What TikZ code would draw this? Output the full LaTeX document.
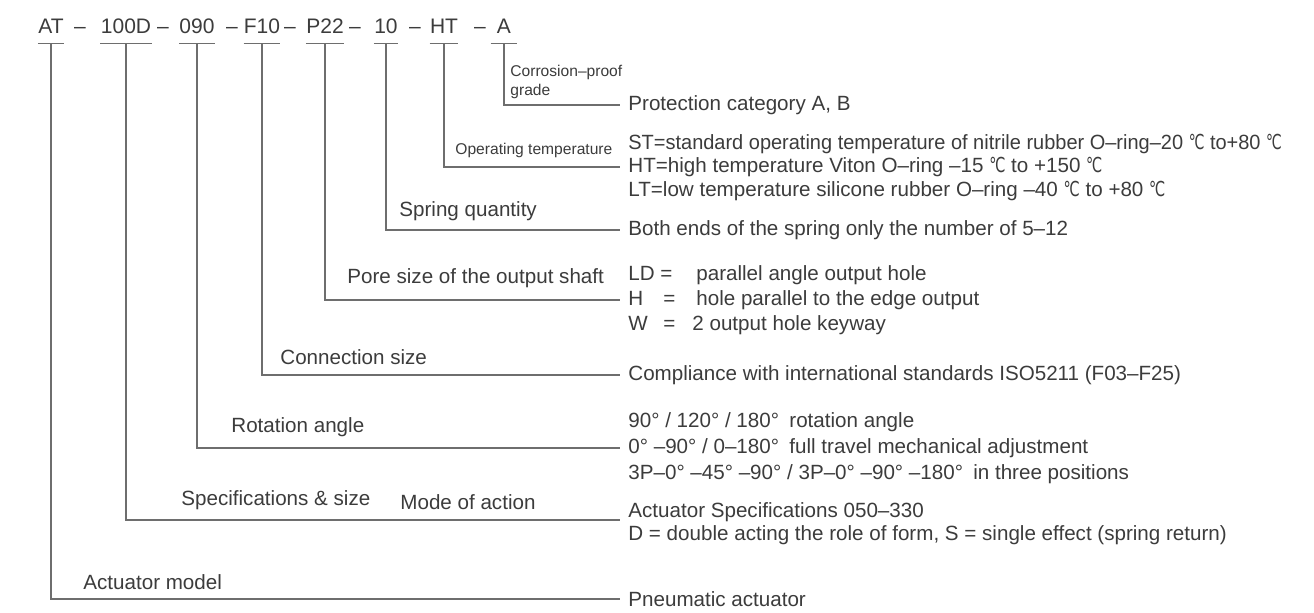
\documentclass[tikz,border=0pt]{standalone}
\usepackage{fontspec}
\setmainfont{Liberation Sans}
\newfontfamily\symfont{DejaVu Sans}
\usepackage{graphicx}
\usepackage{tikz}
\definecolor{inkgray}{HTML}{3C3C3C}
\definecolor{leadgray}{HTML}{6E6E6E}
\newcommand{\degc}{\scalebox{0.7}[1]{\symfont\char"2103}}
\newcommand{\squeeze}[1]{\scalebox{0.97}[1]{#1}}

\begin{document}
\begin{tikzpicture}[x=0.5pt, y=-0.5pt, every node/.style={text=inkgray},
    code/.style={font=\fontsize{10.5}{12}\selectfont, inner xsep=0pt, inner ysep=5pt, anchor=base},
    desc/.style={font=\fontsize{10.3}{12}\selectfont, inner xsep=4pt, inner ysep=0pt, anchor=west, align=left},
    tag/.style={font=\fontsize{10.3}{12}\selectfont, inner sep=0pt, anchor=west},
    small/.style={font=\fontsize{7.8}{9.5}\selectfont, inner sep=0pt, anchor=west, align=left},
    lead/.style={draw=leadgray, line width=0.6pt}]
  \useasboundingbox[fill=white] (0,0) rectangle (1314,612);

  % model code
  \node[code] (cAT) at (51,33) {AT};
  \node[code] (c100D) at (126,33) {100D};
  \node[code] (c090) at (197,33) {090};
  \node[code] (cF10) at (262,33) {F10};
  \node[code] (cP22) at (325,33) {P22};
  \node[code] (c10) at (386,33) {10};
  \node[code] (cHT) at (444,33) {HT};
  \node[code, inner xsep=3pt] (cA) at (504,33) {A};
  \node[code] (dash1) at (80,33) {–};
  \node[code] (dash2) at (163,33) {–};
  \node[code] (dash3) at (232,33) {–};
  \node[code] (dash4) at (290,33) {–};
  \node[code] (dash5) at (355,33) {–};
  \node[code] (dash6) at (415,33) {–};
  \node[code] (dash7) at (480,33) {–};
  \foreach \c in {cAT,c100D,c090,cF10,cP22,c10,cHT,cA}
    \draw[lead] (\c.south west) -- (\c.south east);

  % descriptions
  \node[desc] (dA) at (620,105) {Protection category A, B};
  \node[desc, font=\fontsize{10.3}{11.75}\selectfont] (dHT) at (620,167)
    {\squeeze{ST=standard operating temperature of nitrile rubber O–ring–20 \degc{} to+80 \degc}\\
     HT=high temperature Viton O–ring –15 \degc{} to +150 \degc\\
     LT=low temperature silicone rubber O–ring –40 \degc{} to +80 \degc};
  \node[desc] (d10) at (620,230) {Both ends of the spring only the number of 5–12};
  \node[desc, font=\fontsize{10.3}{12.5}\selectfont] (dP22) at (620,300)
    {\makebox[34pt][l]{LD =}parallel angle output hole\\
     \makebox[17.5pt][l]{H}\makebox[16.5pt][l]{=}hole parallel to the edge output\\
     \makebox[17.5pt][l]{W}\makebox[14.5pt][l]{=}2 output hole keyway};
  \node[desc] (dF10) at (620,375) {Compliance with international standards ISO5211 (F03–F25)};
  \node[desc, font=\fontsize{10.3}{13}\selectfont] (d090) at (620,448)
    {90° / 120° / 180°\enspace rotation angle\\
     0° –90° / 0–180°\enspace full travel mechanical adjustment\\
     3P–0° –45° –90° / 3P–0° –90° –180°\enspace in three positions};
  \node[desc, font=\fontsize{10.3}{11.5}\selectfont] (d100D) at (620,524)
    {Actuator Specifications 050–330\\
     D = double acting the role of form, S = single effect (spring return)};
  \node[desc] (dAT) at (620,599) {Pneumatic actuator};

  % labels
  \node[small] (lA) at (510,81.5) {Corrosion–proof\\grade};
  \node[small] (lHT) at (455,150) {Operating temperature};
  \node[tag] (l10) at (399,211) {Spring quantity};
  \node[tag] (lP22) at (347,278) {Pore size of the output shaft};
  \node[tag] (lF10) at (280,357) {Connection size};
  \node[tag] (l090) at (231,427) {Rotation angle};
  \node[tag] (l100D) at (181,500) {Specifications \& size};
  \node[tag] (lmode) at (400,502) {Mode of action};
  \node[tag] (lAT) at (83,582) {Actuator model};

  % leaders
  \draw[lead] (cA.south) |- (dA.west);
  \draw[lead] (cHT.south) |- (dHT.west);
  \draw[lead] (c10.south) |- (d10.west);
  \draw[lead] (cP22.south) |- (dP22.west);
  \draw[lead] (cF10.south) |- (dF10.west);
  \draw[lead] (c090.south) |- (d090.west);
  \draw[lead] (c100D.south) |- ([yshift=2pt]d100D.west);
  \draw[lead] (cAT.south) |- (dAT.west);
\end{tikzpicture}
\end{document}
